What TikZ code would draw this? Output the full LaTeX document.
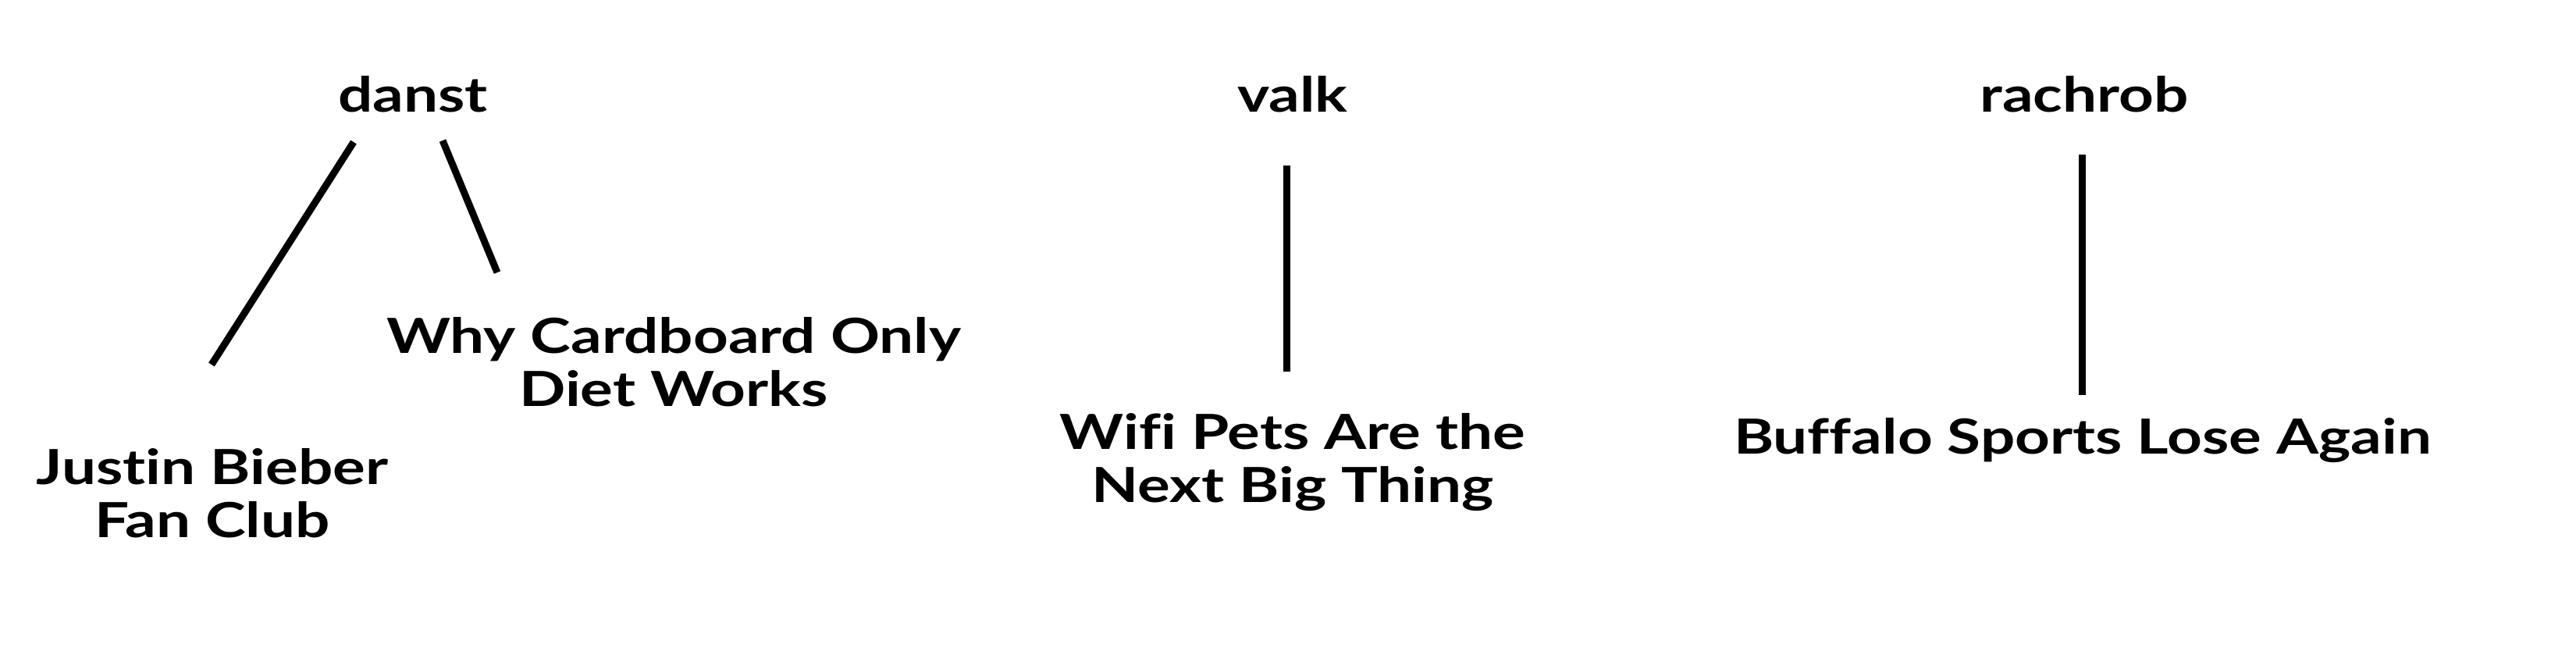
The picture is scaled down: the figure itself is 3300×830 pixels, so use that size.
\documentclass[tikz,border=0pt]{standalone}
\usepackage{fontspec}
\setmainfont{Lato}[FakeStretch=1.26,Ligatures=CommonOff]
\begin{document}
\begin{tikzpicture}[x=0.5pt,y=-0.5pt,
  lbl/.style={font=\bfseries\fontsize{31}{34}\selectfont, inner sep=0pt, anchor=north, align=center},
  edge/.style={line width=4.5pt}]
\useasboundingbox[fill=white] (0,0) rectangle (3300,830);
% user names
\node[lbl] (danst) at (529,97) {danst};
\node[lbl] (valk) at (1656,97) {valk};
\node[lbl] (rachrob) at (2670,97) {rachrob};
% posts
\node[lbl] (bieber) at (272,574) {Justin Bieber\\Fan Club};
\node[lbl] (cardboard) at (863,406) {Why Cardboard Only\\Diet Works};
\node[lbl] (wifi) at (1656,529) {Wifi Pets Are the\\Next Big Thing};
\node[lbl] (buffalo) at (2668,535) {Buffalo Sports Lose Again};
% connector ends
\coordinate (dA1) at (453,182);
\coordinate (dA2) at (271,467);
\coordinate (dB1) at (567,180);
\coordinate (dB2) at (637,349);
\coordinate (vA1) at (1648,212);
\coordinate (vA2) at (1648,476);
\coordinate (rA1) at (2667,198);
\coordinate (rA2) at (2667,506);
\draw[edge] (dA1) -- (dA2);
\draw[edge] (dB1) -- (dB2);
\draw[edge] (vA1) -- (vA2);
\draw[edge] (rA1) -- (rA2);
\end{tikzpicture}
\end{document}
